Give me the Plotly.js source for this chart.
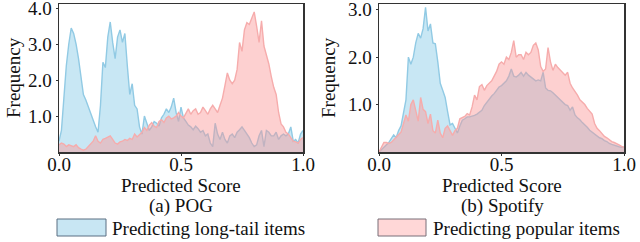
<!DOCTYPE html>
<html>
<head>
<meta charset="utf-8">
<script src="https://cdn.plot.ly/plotly-3.0.1.min.js"></script>
<style>html,body{margin:0;padding:0;background:#fff;}#chart{width:640px;height:242px;}</style>
</head>
<body>
<div id="chart"></div>
<script>
// ---- data ----
const scoreGrid = Array.from({length: 101}, (_, i) => +(i / 100).toFixed(2));

const pogLongTail = [0.3,0.6,1.5,2.4,3.0,3.45,3.3,3.0,2.6,2.15,
  1.6,1.45,1.25,1.05,0.9,0.7,0.55,1.3,2.5,2.35,
  3.2,3.62,3.05,2.6,3.2,3.4,3.05,3.3,2.4,1.6,
  1.9,1.3,1.2,0.7,0.5,1.0,0.8,0.6,0.7,0.85,
  0.8,0.72,0.95,1.05,1.2,1.1,1.25,1.5,1.1,0.85,
  1.25,0.95,0.85,0.75,0.7,0.62,0.72,0.65,0.55,0.6,
  0.45,0.5,0.25,0.15,0.8,0.5,0.35,0.55,0.35,0.25,
  0.45,0.5,0.4,0.55,0.62,0.7,0.6,0.5,0.4,0.25,
  0.15,0.2,0.45,0.6,0.15,0.6,0.55,0.45,0.45,0.55,
  0.35,0.45,0.5,0.45,0.5,0.7,0.3,0.35,0.25,0.5,0.6];

const pogPopular = [0.2,0.25,0.22,0.15,0.2,0.18,0.15,0.2,0.12,0.08,
  0.05,0.08,0.15,0.25,0.3,0.45,0.3,0.25,0.35,0.38,
  0.42,0.45,0.35,0.25,0.22,0.28,0.3,0.35,0.32,0.38,
  0.35,0.5,0.42,0.5,0.55,0.68,0.6,0.75,0.82,0.72,
  0.68,0.85,0.9,0.82,0.95,1.0,0.92,0.95,1.0,1.1,
  1.0,0.95,1.1,1.2,1.05,1.15,1.2,1.05,1.1,1.25,
  1.15,1.05,1.2,1.3,1.2,1.1,1.3,1.5,1.85,2.2,
  2.0,1.9,2.0,2.3,3.05,2.8,3.4,3.6,3.55,3.75,
  3.9,3.5,3.05,3.65,2.95,2.7,2.45,2.1,1.8,1.6,
  1.1,0.78,0.7,0.55,0.5,0.4,0.3,0.28,0.25,0.35,0.4];

const spotifyLongTail = [0.0,0.05,0.1,0.15,0.2,0.28,0.36,0.3,0.45,0.55,
  0.8,1.1,2.0,1.85,2.0,2.3,2.5,2.4,2.6,3.05,
  2.55,2.7,2.3,2.28,1.9,1.45,1.3,1.15,0.85,0.57,
  0.6,0.5,0.4,0.55,0.67,0.7,0.74,0.74,0.75,0.77,
  0.8,0.85,0.88,0.98,1.05,1.1,1.18,1.23,1.3,1.37,
  1.4,1.44,1.5,1.6,1.75,1.6,1.58,1.62,1.68,1.6,
  1.68,1.62,1.58,1.55,1.5,1.52,1.5,1.68,1.35,1.3,
  1.29,1.25,1.2,1.15,1.1,1.05,1.0,0.98,0.88,0.95,
  0.78,0.72,0.68,0.62,0.58,0.52,0.46,0.42,0.37,0.33,
  0.3,0.28,0.24,0.22,0.18,0.16,0.14,0.12,0.11,0.1,0.1];

const spotifyPopular = [0.0,0.1,0.2,0.2,0.18,0.2,0.25,0.3,0.35,0.42,
  0.6,0.78,0.65,1.0,1.1,0.85,0.65,1.15,0.9,0.85,
  0.6,0.8,0.45,0.4,0.67,0.4,0.3,0.5,0.55,0.45,
  0.35,0.45,0.5,0.7,0.72,0.75,0.81,0.78,0.95,1.2,
  1.1,1.38,1.42,1.3,1.4,1.45,1.5,1.6,1.7,1.85,
  1.9,1.85,2.0,1.95,2.1,2.35,2.0,2.05,2.05,1.95,
  2.1,2.05,2.1,2.25,2.3,2.15,1.8,1.7,1.75,2.2,
  1.9,1.72,1.85,1.78,1.72,1.68,1.62,1.68,1.45,1.35,
  1.28,1.2,1.1,1.05,1.0,0.92,0.85,0.8,0.6,0.5,
  0.45,0.38,0.33,0.3,0.26,0.22,0.2,0.18,0.15,0.12,0.1];

const xTickVals = [0, 0.5, 1];
const xTickText = ['0.0', '0.5', '1.0'];
const yTickValsPOG = [1, 2, 3, 4];
const yTickTextPOG = ['1.0', '2.0', '3.0', '4.0'];
const yTickValsSpotify = [1, 2, 3];
const yTickTextSpotify = ['1.0', '2.0', '3.0'];
const seriesNames = ['Predicting long-tail items', 'Predicting popular items'];
const panelCaptions = ['(a) POG', '(b) Spotify'];
const xTitle = 'Predicted Score';
const yTitle = 'Frequency';

// ---- style ----
const W = 640, H = 242;
const px = v => v / W;
const py = v => 1 - v / H;
const FONT = 'Liberation Serif';
const blueLine = 'rgb(145,202,228)';
const blueFill = 'rgba(140,205,232,0.48)';
const pinkLine = 'rgb(246,172,172)';
const pinkFill = 'rgba(250,150,150,0.45)';

function area(y, xa, ya, line, fill) {
  return {x: scoreGrid, y: y, xaxis: xa, yaxis: ya, type: 'scatter', mode: 'lines',
    fill: 'tozeroy', fillcolor: fill, line: {color: line, width: 1.4}, hoverinfo: 'skip', showlegend: false};
}

const data = [
  area(pogLongTail, 'x', 'y', blueLine, blueFill),
  area(pogPopular, 'x', 'y', pinkLine, pinkFill),
  area(spotifyLongTail, 'x2', 'y2', blueLine, blueFill),
  area(spotifyPopular, 'x2', 'y2', pinkLine, pinkFill)
];

const axisCommon = {showgrid: false, zeroline: false, showline: true, mirror: true,
  linecolor: '#333', linewidth: 1.5, ticks: 'outside', ticklen: 2, tickcolor: '#333',
  ticklabeloverflow: 'allow',
  tickfont: {family: FONT, size: 19, color: '#111'}};

const yDom = [py(152), py(4)];

const layout = {
  width: W, height: H,
  margin: {l: 0, r: 0, t: 0, b: 0},
  paper_bgcolor: '#fff', plot_bgcolor: '#fff',
  showlegend: false,
  font: {family: FONT, size: 19, color: '#111'},
  xaxis: Object.assign({}, axisCommon, {domain: [px(59), px(303)], range: [0, 1], anchor: 'y',
    tickvals: xTickVals, ticktext: xTickText, ticklabelstandoff: -7}),
  yaxis: Object.assign({}, axisCommon, {domain: yDom, range: [0, 4.12], anchor: 'x',
    tickvals: yTickValsPOG, ticktext: yTickTextPOG}),
  xaxis2: Object.assign({}, axisCommon, {domain: [px(379), px(624)], range: [0, 1], anchor: 'y2',
    tickvals: xTickVals, ticktext: xTickText, ticklabelstandoff: -7}),
  yaxis2: Object.assign({}, axisCommon, {domain: yDom, range: [0, 3.12], anchor: 'x2',
    tickvals: yTickValsSpotify, ticktext: yTickTextSpotify}),
  annotations: [],
  shapes: []
};

const tf = {family: FONT, size: 19, color: '#111'};
function ann(text, x, y, opts) {
  layout.annotations.push(Object.assign({text: text, xref: 'paper', yref: 'paper', x: px(x), y: py(y),
    showarrow: false, font: tf, xanchor: 'center', yanchor: 'middle'}, opts || {}));
}
ann(xTitle, 181, 185);
ann(xTitle, 502, 185);
ann(yTitle, 13, 78, {textangle: -90});
ann(yTitle, 328, 78, {textangle: -90});
ann(panelCaptions[0], 181, 206);
ann(panelCaptions[1], 502, 206);
ann(seriesNames[0], 110, 228, {xanchor: 'left'});
ann(seriesNames[1], 431, 228, {xanchor: 'left'});

layout.shapes.push({type: 'rect', xref: 'paper', yref: 'paper', x0: px(57), x1: px(106), y0: py(236), y1: py(219),
  fillcolor: 'rgb(200,230,243)', line: {color: 'rgb(90,110,130)', width: 1}});
layout.shapes.push({type: 'rect', xref: 'paper', yref: 'paper', x0: px(378), x1: px(426), y0: py(236), y1: py(219),
  fillcolor: 'rgb(255,215,215)', line: {color: 'rgb(120,110,120)', width: 1}});

Plotly.newPlot('chart', data, layout, {staticPlot: true, displayModeBar: false});
</script>
</body>
</html>
